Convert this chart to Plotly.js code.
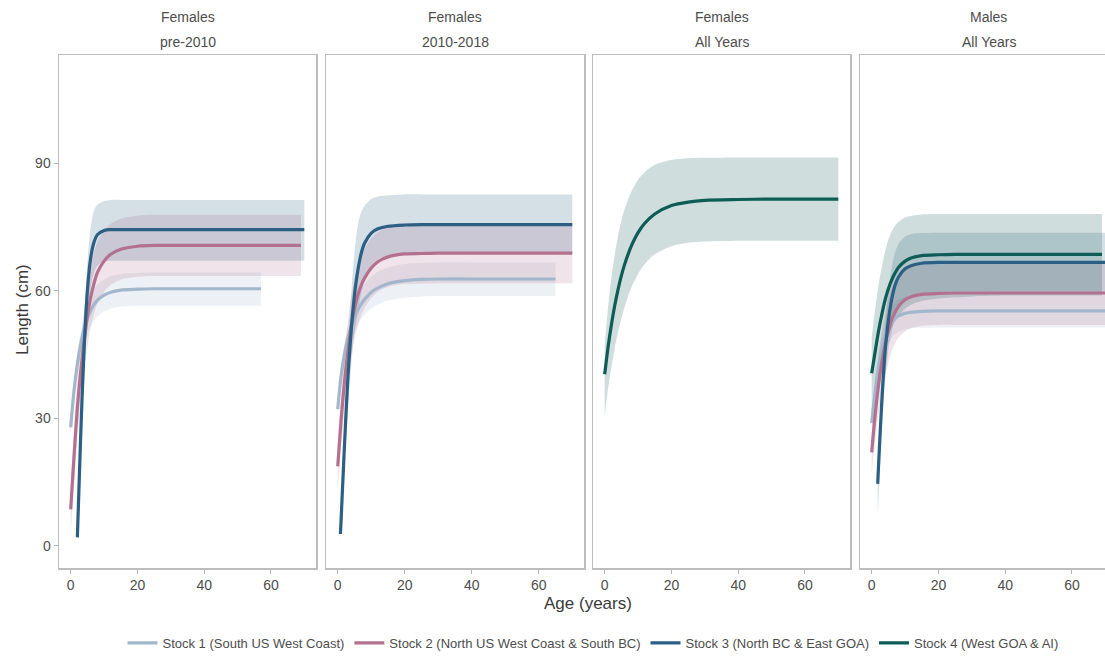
<!DOCTYPE html>
<html>
<head>
<meta charset="utf-8">
<script src="https://cdn.plot.ly/plotly-3.0.1.min.js"></script>
<style>
html,body{margin:0;padding:0;overflow:hidden;background:#fff;}
#chart{width:1120px;height:656px;}
</style>
</head>
<body>
<div id="chart"></div>
<script>
// ---------- labels ----------
const STOCK_NAMES = [
  "Stock 1 (South US West Coast)",
  "Stock 2 (North US West Coast & South BC)",
  "Stock 3 (North BC & East GOA)",
  "Stock 4 (West GOA & AI)"
];
const STOCK_COLORS = ["#a3b7cc", "#b3718f", "#2b5f84", "#0d5c56"];
const STOCK_FILLS = ["rgba(163,183,204,0.2)", "rgba(179,113,143,0.2)", "rgba(43,95,132,0.2)", "rgba(13,92,86,0.2)"];
const PANEL_SEX = ["Females", "Females", "Females", "Males"];
const PANEL_PERIOD = ["pre-2010", "2010-2018", "All Years", "All Years"];
const X_TICKS = [0, 20, 40, 60];
const Y_TICKS = [0, 30, 60, 90];

// ---------- data (age in years, length in cm) ----------
const AGE = [0,1,2,3,4,5,6,7,8,10,12,15,20,25,30,40,50,60,70];

// Panel 1: Females pre-2010
const p1s1Age = [0,1,2,3,4,5,6,7,8,10,12,15,20,25,30,40,50,57];
const p1s1Fit = [27.9,36.5,42.8,47.5,51,53.6,55.4,56.8,57.8,59,59.7,60.2,60.4,60.5,60.5,60.5,60.5,60.5];
const p1s1Lo  = [26.1,34.1,40,44.4,47.7,50.1,51.8,53.1,54,55.2,55.8,56.3,56.5,56.5,56.5,56.5,56.5,56.5];
const p1s1Hi  = [29.7,38.8,45.5,50.5,54.2,57,58.9,60.4,61.4,62.7,63.5,64,64.2,64.3,64.3,64.3,64.3,64.3];

const p1s2Age = [0,1,2,3,4,5,6,7,8,10,12,15,20,25,30,40,50,60,69];
const p1s2Fit = [8.6,21,32.5,41,48,54,58.5,61.8,64.3,67,68.6,69.8,70.5,70.7,70.7,70.7,70.7,70.7,70.7];
const p1s2Lo  = [2.5,14.5,25.5,34,40.8,46.8,51.3,54.6,57.1,59.8,61.4,62.6,63.3,63.5,63.5,63.5,63.5,63.5,63.5];
const p1s2Hi  = [14.5,27.5,39.5,48,55.2,61.2,65.7,69,71.5,74.2,75.8,77,77.7,77.9,77.9,77.9,77.9,77.9,77.9];

const p1s3Age = [2,3,4,5,6,7,8,10,12,15,20,25,30,40,50,60,70];
const p1s3Fit = [2,26,46,60,67.8,71.5,73.2,74.2,74.4,74.4,74.4,74.4,74.4,74.4,74.4,74.4,74.4];
const p1s3Lo  = [0.5,21,40,53,60.5,64.2,65.9,66.9,67.1,67.1,67.1,67.1,67.1,67.1,67.1,67.1,67.1];
const p1s3Hi  = [4,31,52,66.5,75,78.8,80.3,81.1,81.4,81.4,81.4,81.4,81.4,81.4,81.4,81.4,81.4];

// Panel 2: Females 2010-2018
const p2s1Age = [0,1,2,3,4,5,6,7,8,10,12,15,20,25,30,40,50,60,65];
const p2s1Fit = [32.2,40,45,48.8,51.5,53.6,55.5,56.9,58,59.7,60.7,61.7,62.4,62.7,62.8,62.8,62.8,62.8,62.8];
const p2s1Lo  = [30.1,37.4,42.1,45.7,48.2,50.2,52,53.3,54.3,55.9,56.8,57.8,58.4,58.7,58.8,58.8,58.8,58.8,58.8];
const p2s1Hi  = [34.2,42.5,47.8,51.8,54.7,56.9,58.9,60.4,61.6,63.4,64.5,65.5,66.3,66.6,66.7,66.7,66.7,66.7,66.7];

const p2s2Age = AGE;
const p2s2Fit = [18.7,29.6,38.5,45.5,51.6,55.8,59,61.3,63,65.4,66.9,68,68.7,68.8,68.9,68.9,68.9,68.9,68.9];
const p2s2Lo  = [13,23,31.5,38.5,44.5,48.7,51.9,54.2,55.9,58.3,59.8,60.9,61.6,61.7,61.8,61.8,61.8,61.8,61.8];
const p2s2Hi  = [24,36,45.5,52.5,58.5,62.7,65.9,68.2,69.9,72.3,73.8,74.9,75.5,75.6,75.7,75.7,75.7,75.7,75.7];

const p2s3Age = [0.8,1,2,3,4,5,6,7,8,10,12,15,20,25,30,40,50,60,70];
const p2s3Fit = [2.8,6,23.4,39,50.5,59,64.8,68.8,71.2,73.6,74.6,75.2,75.5,75.6,75.6,75.6,75.6,75.6,75.6];
const p2s3Lo  = [1.5,4,19,32,42.5,50,55,59.5,62.5,66,67.5,68.4,68.8,68.9,68.9,68.9,68.9,68.9,68.9];
const p2s3Hi  = [4,8,28,46,59,69,75.5,78.5,80,81.6,82.2,82.5,82.7,82.7,82.7,82.7,82.7,82.7,82.7];

// Panel 3: Females All Years
const p3s4Age = AGE;
const p3s4Fit = [40.4,46.7,52,56.5,60.3,63.6,66.3,68.6,70.6,73.7,75.9,78.1,80.1,80.9,81.3,81.5,81.6,81.6,81.6];
const p3s4Lo  = [30.4,37,42,46.5,50.3,53.5,56.3,58.7,60.8,64,66.3,68.6,70.5,71.3,71.6,71.8,71.8,71.8,71.8];
const p3s4Hi  = [47,56,63,68.5,73,76.5,79.3,81.5,83.3,86.2,88,89.7,90.8,91.2,91.3,91.4,91.4,91.4,91.4];

// Panel 4: Males All Years
const p4s1Age = AGE;
const p4s1Fit = [28.9,36,41.8,46,49.2,51.2,52.6,53.5,54.1,54.7,55,55.2,55.3,55.3,55.3,55.3,55.3,55.3,55.3];
const p4s1Lo  = [26.9,33.5,38.9,42.8,45.8,47.6,48.9,49.8,50.3,50.9,51.2,51.3,51.4,51.4,51.4,51.4,51.4,51.4,51.4];
const p4s1Hi  = [31,38.6,44.8,49.3,52.7,54.9,56.4,57.4,58,58.6,59,59.2,59.3,59.3,59.3,59.3,59.3,59.3,59.3];

const p4s2Age = AGE;
const p4s2Fit = [22,30.5,37.5,43,47.3,50.6,53.2,55,56.3,57.9,58.7,59.2,59.4,59.5,59.5,59.5,59.5,59.5,59.5];
const p4s2Lo  = [17,24.5,30.5,35.5,39.8,43.2,45.8,47.6,48.9,50.5,51.3,51.8,52,52,52,52,52,52,52];
const p4s2Hi  = [27,36.5,44.5,50.5,54.8,57.9,60.4,62,63.3,64.9,65.7,66.2,66.4,66.5,66.5,66.5,66.5,66.5,66.5];

const p4s3Age = [1.8,2,3,4,5,6,7,8,10,12,15,20,25,30,40,50,60,70];
const p4s3Fit = [14.6,18,33.5,45.5,53,58,61.3,63.2,65.2,66,66.5,66.7,66.7,66.7,66.7,66.7,66.7,66.7];
const p4s3Lo  = [7,10,27,38.5,46,50.5,53.8,55.7,57.8,58.8,59.4,59.7,59.8,59.8,59.8,59.8,59.8,59.8];
const p4s3Hi  = [17,21,38,51.5,60,65.5,69,71,72.8,73.4,73.6,73.7,73.7,73.7,73.7,73.7,73.7,73.7];

const p4s4Age = [0,1,2,3,4,5,6,7,8,10,12,15,20,25,30,40,50,60,69];
const p4s4Fit = [40.6,45.5,50.3,54.3,57.8,60.5,62.6,64.2,65.5,67,67.8,68.3,68.5,68.6,68.6,68.6,68.6,68.6,68.6];
const p4s4Lo  = [29,35.5,39.8,43.5,46.7,49.3,51.3,52.8,54,55.8,56.8,57.6,58.2,58.5,58.7,58.9,58.9,58.9,58.9];
const p4s4Hi  = [49,55.5,61,65.5,69.2,72,74,75.3,76.2,77.3,77.7,78,78.1,78.1,78.1,78.1,78.1,78.1,78.1];

// ---------- assemble ----------
const SERIES = [
  {panel:1, stock:0, age:p1s1Age, fit:p1s1Fit, lo:p1s1Lo, hi:p1s1Hi},
  {panel:1, stock:1, age:p1s2Age, fit:p1s2Fit, lo:p1s2Lo, hi:p1s2Hi},
  {panel:1, stock:2, age:p1s3Age, fit:p1s3Fit, lo:p1s3Lo, hi:p1s3Hi},
  {panel:2, stock:0, age:p2s1Age, fit:p2s1Fit, lo:p2s1Lo, hi:p2s1Hi},
  {panel:2, stock:1, age:p2s2Age, fit:p2s2Fit, lo:p2s2Lo, hi:p2s2Hi},
  {panel:2, stock:2, age:p2s3Age, fit:p2s3Fit, lo:p2s3Lo, hi:p2s3Hi},
  {panel:3, stock:3, age:p3s4Age, fit:p3s4Fit, lo:p3s4Lo, hi:p3s4Hi},
  {panel:4, stock:0, age:p4s1Age, fit:p4s1Fit, lo:p4s1Lo, hi:p4s1Hi},
  {panel:4, stock:1, age:p4s2Age, fit:p4s2Fit, lo:p4s2Lo, hi:p4s2Hi},
  {panel:4, stock:2, age:p4s3Age, fit:p4s3Fit, lo:p4s3Lo, hi:p4s3Hi},
  {panel:4, stock:3, age:p4s4Age, fit:p4s4Fit, lo:p4s4Lo, hi:p4s4Hi}
];

const LINE_SHAPE = {shape: "spline", smoothing: 0.8};
const traces = [];
// ribbons first
SERIES.forEach(s => {
  const xa = s.panel === 1 ? "x" : "x" + s.panel;
  const ya = s.panel === 1 ? "y" : "y" + s.panel;
  traces.push({
    type: "scatter", mode: "lines", x: s.age, y: s.lo, xaxis: xa, yaxis: ya,
    line: Object.assign({width: 0, color: STOCK_FILLS[s.stock]}, LINE_SHAPE),
    showlegend: false, hoverinfo: "skip"
  });
  traces.push({
    type: "scatter", mode: "lines", x: s.age, y: s.hi, xaxis: xa, yaxis: ya,
    line: Object.assign({width: 0, color: STOCK_FILLS[s.stock]}, LINE_SHAPE),
    fill: "tonexty", fillcolor: STOCK_FILLS[s.stock],
    showlegend: false, hoverinfo: "skip"
  });
});
// then lines
const seen = {};
SERIES.forEach(s => {
  const xa = s.panel === 1 ? "x" : "x" + s.panel;
  const ya = s.panel === 1 ? "y" : "y" + s.panel;
  traces.push({
    type: "scatter", mode: "lines", x: s.age, y: s.fit, xaxis: xa, yaxis: ya,
    name: STOCK_NAMES[s.stock], legendgroup: "s" + s.stock,
    legendrank: s.stock + 1,
    showlegend: !seen[s.stock],
    line: Object.assign({width: 3.2, color: STOCK_COLORS[s.stock]}, LINE_SHAPE)
  });
  seen[s.stock] = true;
});

// ---------- layout ----------
const FONT = "Liberation Sans, Arial, sans-serif";
const TXT = "#4d4d4d";
const PLOT_L = 59, PLOT_R = 1117, PLOT_T = 55, PLOT_B = 568;
const PW = PLOT_R - PLOT_L, PH = PLOT_B - PLOT_T;
const PANEL_PX = [[59,316],[326,584],[593,850],[860,1117]];

const layout = {
  width: 1120, height: 656,
  margin: {l: PLOT_L, r: 1120 - PLOT_R, t: PLOT_T, b: 656 - PLOT_B, pad: 0, autoexpand: false},
  paper_bgcolor: "#ffffff", plot_bgcolor: "#ffffff",
  font: {family: FONT, color: TXT, size: 14},
  showlegend: true,
  legend: {
    orientation: "h", x: (593 - PLOT_L) / PW, xanchor: "center",
    y: (PLOT_B - 643) / PH, yanchor: "middle",
    font: {family: FONT, size: 13, color: TXT},
    itemwidth: 30, tracegroupgap: 0, bgcolor: "rgba(0,0,0,0)"
  },
  annotations: [],
  hovermode: false
};

for (let p = 1; p <= 4; p++) {
  const dom = [(PANEL_PX[p-1][0] - PLOT_L) / PW, (PANEL_PX[p-1][1] - PLOT_L) / PW];
  const xk = p === 1 ? "xaxis" : "xaxis" + p;
  const yk = p === 1 ? "yaxis" : "yaxis" + p;
  layout[xk] = {
    domain: dom, anchor: p === 1 ? "y" : "y" + p,
    range: [-3.5, 73.5], tickvals: X_TICKS, ticktext: X_TICKS.map(String),
    ticks: "outside", ticklen: 4, tickwidth: 1, tickcolor: "#b3b3b3",
    showgrid: false, zeroline: false,
    showline: true, mirror: true, linecolor: "#bdbdbd", linewidth: 1.5,
    tickfont: {family: FONT, size: 14, color: TXT}
  };
  layout[yk] = {
    domain: [0, 1], anchor: p === 1 ? "x" : "x" + p,
    range: [-5.2, 115.5], tickvals: Y_TICKS, ticktext: Y_TICKS.map(String),
    ticks: p === 1 ? "outside" : "", ticklen: 4, tickwidth: 1, tickcolor: "#b3b3b3",
    showticklabels: p === 1,
    showgrid: false, zeroline: false,
    showline: true, mirror: true, linecolor: "#bdbdbd", linewidth: 1.5,
    tickfont: {family: FONT, size: 14, color: TXT}
  };
  const cx = (dom[0] + dom[1]) / 2;
  layout.annotations.push({
    text: PANEL_SEX[p-1], xref: "paper", yref: "paper", x: cx, y: (PLOT_B - 17) / PH,
    xanchor: "center", yanchor: "middle", showarrow: false,
    font: {family: FONT, size: 14, color: TXT}
  });
  layout.annotations.push({
    text: PANEL_PERIOD[p-1], xref: "paper", yref: "paper", x: cx, y: (PLOT_B - 42) / PH,
    xanchor: "center", yanchor: "middle", showarrow: false,
    font: {family: FONT, size: 14, color: TXT}
  });
}
layout.annotations.push({
  text: "Age (years)", xref: "paper", yref: "paper", x: (588 - PLOT_L) / PW, y: (PLOT_B - 603) / PH,
  xanchor: "center", yanchor: "middle", showarrow: false,
  font: {family: FONT, size: 17, color: "#3a3a3a"}
});
layout.annotations.push({
  text: "Length (cm)", xref: "paper", yref: "paper", x: (22 - PLOT_L) / PW, y: (PLOT_B - 310) / PH,
  xanchor: "center", yanchor: "middle", showarrow: false, textangle: -90,
  font: {family: FONT, size: 17, color: "#3a3a3a"}
});

Plotly.newPlot("chart", traces, layout, {displayModeBar: false, staticPlot: true});
</script>
</body>
</html>
